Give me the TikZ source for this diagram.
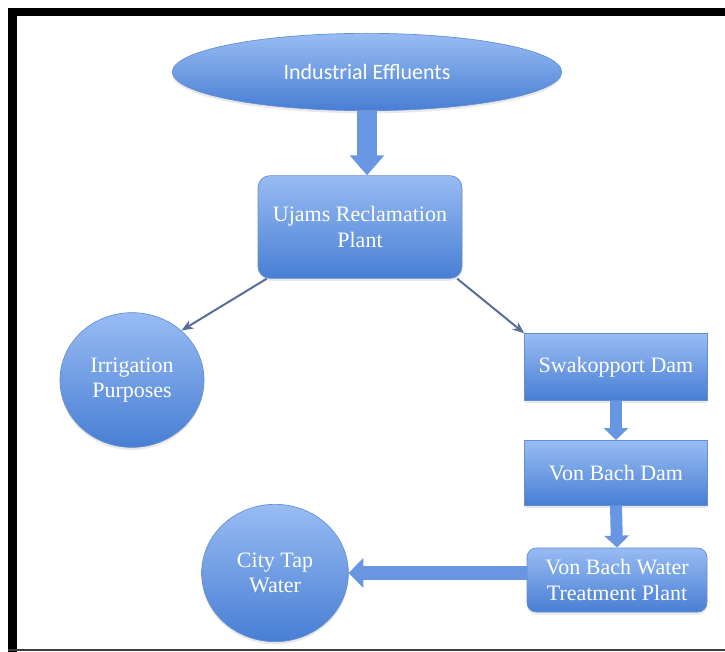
\documentclass[tikz,border=0pt]{standalone}
\usepackage{fontspec}
\setmainfont{Liberation Serif}
\newfontfamily\calibrifont{Carlito}
\usetikzlibrary{shapes.geometric,arrows.meta,shadows}

\definecolor{shapetop}{RGB}{152,188,243}
\definecolor{shapebottom}{RGB}{72,126,212}
\definecolor{shapeline}{RGB}{98,142,212}
\definecolor{arrowblue}{RGB}{104,150,226}
\definecolor{linkgrey}{RGB}{88,110,150}

\tikzset{every picture/.style={line width=0.75pt}}
\tikzset{
  bluefill/.style={top color=shapetop, bottom color=shapebottom, draw=shapeline, line width=0.5pt,
    text=white, font=\fontsize{16.5}{19}\selectfont, align=center, inner sep=0pt,
    drop shadow={opacity=0.18, shadow xshift=0pt, shadow yshift=-2pt}},
  flowbox/.style={bluefill, rectangle},
  roundbox/.style={bluefill, rectangle, rounded corners=9pt},
  bubble/.style={bluefill, ellipse},
  thinarrow/.style={draw=linkgrey, line width=1.5pt, -{Stealth[length=9pt,width=7pt]}},
  bigarrow/.style={draw=arrowblue, line width=15pt, -{Triangle[width=25pt,length=15pt]}},
  smallarrow/.style={draw=arrowblue, line width=9pt, -{Triangle[width=18pt,length=9pt]}},
  sidearrow/.style={draw=arrowblue, line width=11pt, -{Triangle[width=22pt,length=11pt]}}
}

\begin{document}
\begin{tikzpicture}[x=0.75pt,y=0.75pt,yscale=-1,xscale=1]
\useasboundingbox (0,0) rectangle (725,652);
%Frame
\fill [black] (8,8) rectangle (725,16);
\fill [black] (8,8) rectangle (17,652);
\draw [color={rgb,255:red,60;green,60;blue,60}, line width=1.5] (8,650) -- (725,650);

%Shape: Ellipse
\node [bubble, minimum width=292pt, minimum height=58pt] (eff) at (367,72) {\calibrifont Industrial Effluents};
%Shape: Rounded Rectangle
\node [roundbox, minimum width=153pt, minimum height=77pt] (ujams) at (360,227) {Ujams Reclamation\\Plant};
%Shape: Circle
\node [bubble, minimum width=108pt, minimum height=101pt] (irr) at (132,380) {Irrigation\\Purposes};
%Shape: Rectangle
\node [flowbox, minimum width=137pt, minimum height=50pt] (swak) at (616,367) {Swakopport Dam};
%Shape: Rectangle
\node [flowbox, minimum width=137pt, minimum height=49pt] (vbdam) at (616,473) {Von Bach Dam};
%Shape: Rounded Rectangle
\node [roundbox, rounded corners=7pt, minimum width=135pt, minimum height=48pt] (vbwtp) at (617,580) {Von Bach Water\\Treatment Plant};
%Shape: Circle
\node [bubble, minimum width=110pt, minimum height=103pt] (city) at (275,573) {City Tap\\Water};

%Down Arrow
\draw [bigarrow] (eff.south) -- (eff.south |- ujams.north);
%Straight Lines
\draw [thinarrow] (ujams.209) -- (irr.45);
%Straight Lines
\draw [thinarrow] (ujams.-28) -- (swak.north west);
%Down Arrow
\draw [smallarrow] (swak.south) -- (vbdam.north);
%Down Arrow
\draw [smallarrow] (vbdam.south) -- (vbwtp.north);
%Left Arrow
\draw [sidearrow] (vbwtp.west |- city.east) -- (city.east);
\end{tikzpicture}
\end{document}
